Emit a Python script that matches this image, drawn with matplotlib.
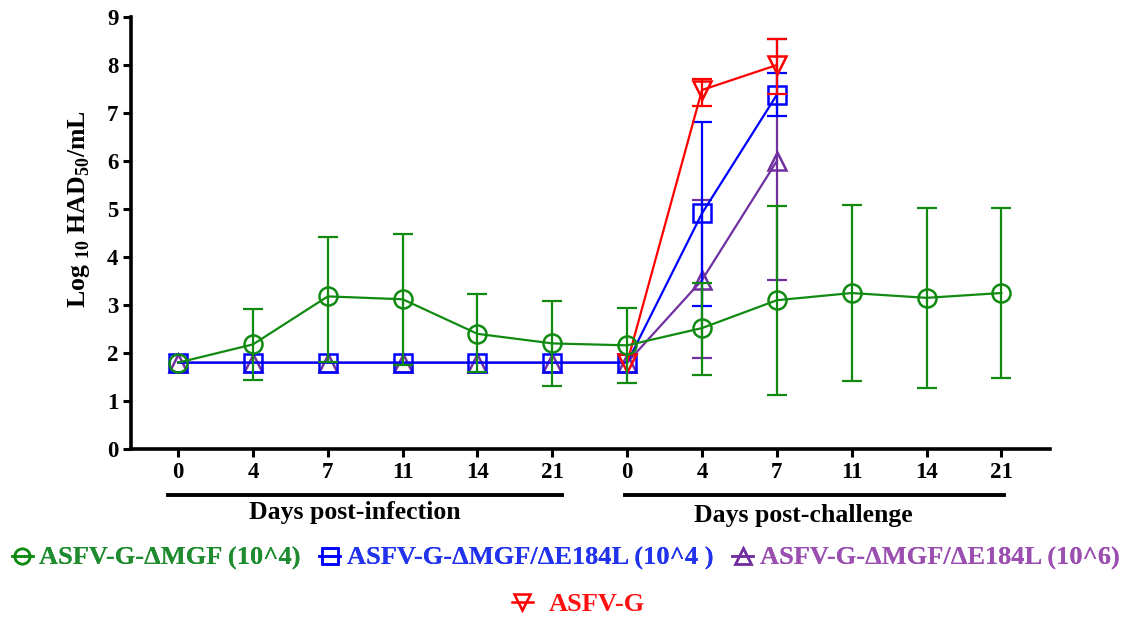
import numpy as np
import matplotlib.pyplot as plt
from matplotlib.lines import Line2D

plt.rcParams['font.family'] = ['Liberation Serif', 'DejaVu Serif']
plt.rcParams['font.weight'] = 'bold'
plt.rcParams['mathtext.fontset'] = 'custom'
plt.rcParams['mathtext.rm'] = 'Liberation Serif:bold'
plt.rcParams['mathtext.bf'] = 'Liberation Serif:bold'

# x categories: days post-infection then days post-challenge
tick_labels = ['0', '4', '7', '11', '14', '21', '0', '4', '7', '11', '14', '21']
x = np.arange(len(tick_labels))

# mean values (NaN = no data)
green = [1.8, 2.18, 3.18, 3.12, 2.40, 2.20, 2.16, 2.52, 3.10, 3.25, 3.15, 3.25]
green_lo = [np.nan, 1.44, 1.82, 1.76, 1.61, 1.31, 1.38, 1.54, 1.12, 1.42, 1.28, 1.48]
green_hi = [np.nan, 2.92, 4.42, 4.48, 3.23, 3.09, 2.93, 3.46, 5.06, 5.08, 5.02, 5.02]

blue = [1.8, 1.8, 1.8, 1.8, 1.8, 1.8, 1.8, 4.91, 7.38, np.nan, np.nan, np.nan]
blue_lo = [np.nan] * 7 + [2.98, 6.94, np.nan, np.nan, np.nan]
blue_hi = [np.nan] * 7 + [6.82, 7.84, np.nan, np.nan, np.nan]

purple = [1.8, 1.8, 1.8, 1.8, 1.8, 1.8, 1.8, 3.52, 6.0, np.nan, np.nan, np.nan]
purple_lo = [np.nan] * 7 + [1.90, 3.53, np.nan, np.nan, np.nan]
purple_hi = [np.nan] * 7 + [5.19, 8.54, np.nan, np.nan, np.nan]

red = [np.nan] * 6 + [1.8, 7.48, 8.0, np.nan, np.nan, np.nan]
red_lo = [np.nan] * 7 + [7.15, 7.39, np.nan, np.nan, np.nan]
red_hi = [np.nan] * 7 + [7.70, 8.55, np.nan, np.nan, np.nan]

labels = ['ASFV-G-ΔMGF (10^4)', 'ASFV-G-ΔMGF/ΔE184L (10^4 )',
          'ASFV-G-ΔMGF/ΔE184L (10^6)', 'ASFV-G']
colors = ['#118a11', '#0000ff', '#7030a0', '#ff0000']
text_colors = ['#1e8c2e', '#2233ee', '#9b4fb0', '#ff1010']
markers = ['o', 's', '^', 'v']

series = [(purple, purple_lo, purple_hi, 2, 3), (blue, blue_lo, blue_hi, 1, 4),
          (red, red_lo, red_hi, 3, 5), (green, green_lo, green_hi, 0, 6)]

fig = plt.figure(figsize=(11.38, 6.26), dpi=100)
ax = fig.add_axes([0.1151, 0.2827, 0.8076, 0.6901])

for vals, lo, hi, k, z in series:
    vals = np.array(vals, float)
    lo = np.array(lo, float)
    hi = np.array(hi, float)
    ok = ~np.isnan(vals)
    ax.plot(x[ok], vals[ok], color=colors[k], lw=1.6, marker=markers[k],
            ms=13, mfc='none', mec=colors[k], mew=1.8, zorder=z)
    e = ~np.isnan(lo)
    ax.errorbar(x[e], vals[e], yerr=[vals[e] - lo[e], hi[e] - vals[e]],
                fmt='none', ecolor=colors[k], elinewidth=1.6, capsize=7,
                capthick=1.6, zorder=z)

ax.set_xlim(-0.63, 11.65)
ax.set_ylim(0, 9)
ax.set_yticks(range(10))
ax.set_xticks(x)
ax.set_xticklabels(tick_labels)
for s in ['top', 'right']:
    ax.spines[s].set_visible(False)
for s in ['left', 'bottom']:
    ax.spines[s].set_linewidth(2.6)
ax.tick_params(axis='both', width=2.2, length=6, labelsize=16.5, pad=3)
ax.set_ylabel(r'Log $_{\mathbf{10}}$ HAD$_{\mathbf{50}}$/mL', fontsize=18.5,
              fontweight='bold')
ax.yaxis.set_label_coords(-0.042, 0.556)

# group bars under the x axis
trans = ax.get_xaxis_transform()
ax.plot([-0.13, 5.13], [-0.106, -0.106], color='black', lw=2.8,
        transform=trans, clip_on=False)
ax.plot([5.97, 11.04], [-0.106, -0.106], color='black', lw=2.8,
        transform=trans, clip_on=False)
ax.text(2.36, -0.146, 'Days post-infection', transform=trans, ha='center',
        va='center', fontsize=18.5, fontweight='bold')
ax.text(8.36, -0.153, 'Days post-challenge', transform=trans, ha='center',
        va='center', fontsize=18.5, fontweight='bold')

handles = [Line2D([], [], color=colors[k], marker=markers[k], ms=11,
                  mfc='none', mew=1.8, lw=1.8) for k in range(4)]
leg1 = fig.legend(handles[:3], labels[:3], loc='center',
                  bbox_to_anchor=(0.497, 0.108), ncol=3, frameon=False,
                  fontsize=19, handlelength=0.8, handletextpad=0.25,
                  columnspacing=0.7)
for t, c in zip(leg1.get_texts(), text_colors[:3]):
    t.set_color(c)
leg2 = fig.legend(handles[3:], labels[3:], loc='center',
                  bbox_to_anchor=(0.508, 0.034), frameon=False,
                  fontsize=19, handlelength=0.8, handletextpad=0.6)
leg2.get_texts()[0].set_color(text_colors[3])
fig.add_artist(leg1)

fig.savefig('out.png', dpi=100)
